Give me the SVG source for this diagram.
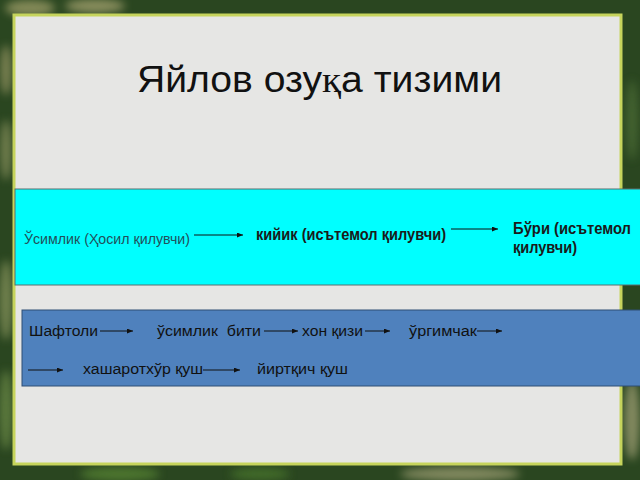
<svg xmlns="http://www.w3.org/2000/svg" width="640" height="480" viewBox="0 0 640 480">
  <style>
    .t{font-family:"Liberation Sans",Arial,sans-serif;fill:#111;}
    .title{font-size:36px;}
    .lbl{font-size:16px;font-weight:bold;fill:#1a1a1a;}
    .sm{font-size:15.5px;}
    .teal{fill:#21505a;font-size:15px;}
    .conn line{stroke:#111;stroke-width:1;marker-end:url(#ah);}
  </style>
  <defs>
    <marker id="ah" markerUnits="userSpaceOnUse" markerWidth="6" markerHeight="5" refX="6" refY="2.5" orient="auto">
      <path d="M0,0 L6,2.5 L0,5 z" fill="#111"/>
    </marker>
    <filter id="blur" x="-50%" y="-50%" width="200%" height="200%">
      <feGaussianBlur stdDeviation="4"/>
    </filter>
  </defs>

  <!-- frame background -->
  <g id="frame">
    <rect x="0" y="0" width="640" height="480" fill="#2a4620"/>
    <g filter="url(#blur)" opacity="0.7">
      <ellipse cx="30" cy="8" rx="25" ry="8" fill="#a9a66e"/>
      <ellipse cx="95" cy="6" rx="30" ry="7" fill="#b3ad78"/>
      <ellipse cx="6" cy="70" rx="6" ry="25" fill="#9c9a66"/>
      <ellipse cx="6" cy="150" rx="6" ry="30" fill="#8f9560"/>
      <ellipse cx="6" cy="300" rx="7" ry="40" fill="#8e9960"/>
      <ellipse cx="6" cy="410" rx="7" ry="40" fill="#6f8e4a"/>
      <ellipse cx="120" cy="474" rx="40" ry="7" fill="#5b8a35"/>
      <ellipse cx="260" cy="474" rx="30" ry="6" fill="#4d7d2e"/>
      <ellipse cx="460" cy="474" rx="60" ry="7" fill="#a8a67a"/>
      <ellipse cx="632" cy="420" rx="8" ry="40" fill="#a8a67a"/>
      <ellipse cx="632" cy="120" rx="6" ry="40" fill="#4f6f38"/>
    </g>
  </g>

  <!-- slide panel -->
  <g id="panel">
    <rect x="14" y="15" width="607" height="449" fill="#e6e6e4" stroke="#c6d45c" stroke-width="3"/>
  </g>

  <!-- title -->
  <g id="title">
    <text class="t title" x="137" y="92" textLength="365" lengthAdjust="spacingAndGlyphs">Яйлов озу<tspan font-family="Liberation Serif,serif">қ</tspan>а тизими</text>
  </g>

  <!-- boxes -->
  <g id="box-cyan">
    <rect x="15" y="189" width="630" height="96" fill="#00ffff" stroke="#5a6e6e" stroke-width="1"/>
  </g>
  <g id="box-blue">
    <rect x="22" y="310" width="625" height="76" fill="#4f81bd" stroke="#2f4e74" stroke-width="1"/>
  </g>

  <!-- nodes: cyan chain -->
  <g id="n-usimlik"><text class="t teal" x="24" y="244" textLength="166" lengthAdjust="spacingAndGlyphs">Ўсимлик (Ҳосил қилувчи)</text></g>
  <g id="n-kiyik"><text class="t lbl" x="256" y="240" textLength="190" lengthAdjust="spacingAndGlyphs">кийик (исътемол қилувчи)</text></g>
  <g id="n-buri">
    <text class="t lbl" x="513" y="234" textLength="118" lengthAdjust="spacingAndGlyphs">Бўри (исътемол</text>
    <text class="t lbl" x="513" y="253" textLength="64" lengthAdjust="spacingAndGlyphs">қилувчи)</text>
  </g>

  <!-- nodes: blue chain -->
  <g id="n-shaftoli"><text class="t sm" x="29" y="336" textLength="69" lengthAdjust="spacingAndGlyphs">Шафтоли</text></g>
  <g id="n-biti"><text class="t sm" x="157" y="336" textLength="104" lengthAdjust="spacingAndGlyphs" xml:space="preserve">ўсимлик  бити</text></g>
  <g id="n-xonqizi"><text class="t sm" x="302" y="336" textLength="61" lengthAdjust="spacingAndGlyphs">хон қизи</text></g>
  <g id="n-urgimchak"><text class="t sm" x="409" y="336" textLength="68" lengthAdjust="spacingAndGlyphs">ўргимчак</text></g>
  <g id="n-xasharot"><text class="t sm" x="83" y="374" textLength="120" lengthAdjust="spacingAndGlyphs">хашаротхўр қуш</text></g>
  <g id="n-yirtqich"><text class="t sm" x="257" y="374" textLength="91" lengthAdjust="spacingAndGlyphs">йиртқич қуш</text></g>

  <!-- connectors -->
  <g id="connectors" class="conn">
    <line x1="194" y1="235" x2="243" y2="235"/>
    <line x1="451" y1="229" x2="498" y2="229"/>
    <line x1="100" y1="331" x2="133" y2="331"/>
    <line x1="264" y1="331" x2="298" y2="331"/>
    <line x1="365" y1="331" x2="390" y2="331"/>
    <line x1="477" y1="331" x2="502" y2="331"/>
    <line x1="28" y1="370" x2="63" y2="370"/>
    <line x1="203" y1="370" x2="240" y2="370"/>
  </g>
</svg>
